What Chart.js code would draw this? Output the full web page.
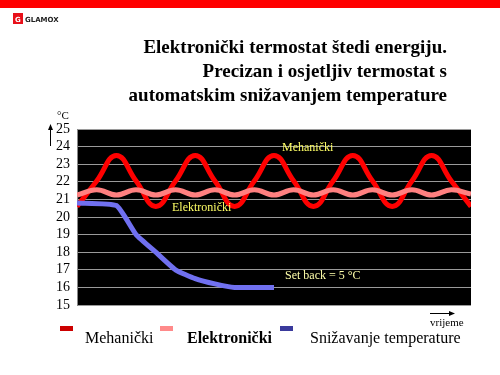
<!DOCTYPE html>
<html>
<head>
<meta charset="utf-8">
<script src="https://cdn.jsdelivr.net/npm/chart.js@4.4.0/dist/chart.umd.min.js"></script>
<style>
  html, body { margin: 0; padding: 0; background: #fff; }
  #wrap { width: 500px; height: 375px; position: relative; }
</style>
</head>
<body>
<div id="wrap"><canvas id="chart" width="500" height="375"></canvas></div>
<script>
// time steps (1 step = quarter of the mechanical cycle)
let timeSteps = [0,1,2,3,4,5,6,7,8,9,10,11,12,13,14,15,16,17,18,19,20];
let mehanicki = [20.6,22.05,23.5,22.05,20.6,22.05,23.5,22.05,20.6,22.05,23.5,22.05,20.6,22.05,23.5,22.05,20.6,22.05,23.5,22.05,20.6];
let elektronicki = [21.25,21.55,21.25,21.55,21.25,21.55,21.25,21.55,21.25,21.55,21.25,21.55,21.25,21.55,21.25,21.55,21.25,21.55,21.25,21.55,21.3];
let snizX = [0,2,3,4,5,6,7,8,10];
let snizavanje = [20.8,20.65,19.0,18.0,17.0,16.5,16.2,16.0,16.0];
let yTicks = [15,16,17,18,19,20,21,22,23,24,25];

let titleLines = ['Elektronički termostat štedi energiju.', 'Precizan i osjetljiv termostat s', 'automatskim snižavanjem temperature'];
let legendItems = [
    {label: 'Mehanički', color: '#cc0000', bold: false},
    {label: 'Elektronički', color: '#ff8a8a', bold: true},
    {label: 'Snižavanje temperature', color: '#3a3a9c', bold: false}
];

function toPoints(xs, ys){
    return ys.map(function(v, i){ return {x: xs[i], y: v}; });
}

/* draws the black plot background before the grid */
let backgroundPlugin = {
    id: 'plotBg',
    beforeDraw: function(chart){
        let ctx = chart.ctx;
        let a = chart.chartArea;
        ctx.save();
        ctx.fillStyle = '#000';
        ctx.fillRect(a.left, a.top, a.right - a.left, a.bottom - a.top);
        ctx.restore();
    }
};

/* all the slide texts: header, logo, arrows, notes and legend */
let decorPlugin = {
    id: 'decor',
    afterDraw: function(chart){
        let ctx = chart.ctx;
        ctx.save();
        // top bar
        ctx.fillStyle = '#ff0000';
        ctx.fillRect(0, 0, 500, 8);
        // logo
        ctx.fillStyle = '#e8101a';
        ctx.fillRect(13, 13, 10, 11);
        ctx.fillStyle = '#fff';
        ctx.font = 'bold 7px "DejaVu Sans"';
        ctx.fillText('G', 15, 22);
        ctx.fillStyle = '#222';
        ctx.font = 'bold 7px "DejaVu Sans"';
        ctx.fillText('GLAMOX', 25, 22);

        // title
        ctx.fillStyle = '#000';
        ctx.font = 'bold 19px "Liberation Serif"';
        ctx.textAlign = 'right';
        ctx.fillText(titleLines[0], 447, 53);
        ctx.fillText(titleLines[1], 447, 77);
        ctx.fillText(titleLines[2], 447, 101);

        // unit + vertical arrow
        ctx.textAlign = 'left';
        ctx.font = '11px "Liberation Serif"';
        ctx.fillText('°C', 57, 119);
        ctx.strokeStyle = '#000';
        ctx.lineWidth = 1;
        ctx.beginPath();
        ctx.moveTo(50.5, 146);
        ctx.lineTo(50.5, 128);
        ctx.stroke();
        ctx.beginPath();
        ctx.moveTo(50.5, 124);
        ctx.lineTo(48, 130);
        ctx.lineTo(53, 130);
        ctx.closePath();
        ctx.fill();

        // time arrow
        ctx.beginPath();
        ctx.moveTo(430, 313.5);
        ctx.lineTo(450, 313.5);
        ctx.stroke();
        ctx.beginPath();
        ctx.moveTo(455, 313.5);
        ctx.lineTo(449, 311);
        ctx.lineTo(449, 316);
        ctx.closePath();
        ctx.fill();
        ctx.font = '11px "Liberation Serif"';
        ctx.fillText('vrijeme', 430, 326);

        // notes inside the plot
        ctx.font = '12px "Liberation Serif"';
        ctx.fillStyle = '#ffff66';
        ctx.fillText('Mehanički', 282, 151);
        ctx.fillText('Elektronički', 172, 211);
        ctx.fillStyle = '#ffffaa';
        ctx.fillText('Set back = 5 °C', 285, 279);

        // legend
        let lx = [60, 160, 280];
        let tx = [85, 187, 310];
        legendItems.forEach(function(item, i){
            ctx.fillStyle = item.color;
            ctx.fillRect(lx[i], 326, 13, 5);
            ctx.fillStyle = '#000';
            ctx.font = (item.bold ? 'bold ' : '') + '16px "Liberation Serif"';
            ctx.fillText(item.label, tx[i], 343);
        });
        ctx.restore();
    }
};

new Chart(document.getElementById('chart'), {
    type: 'line',
    data: {
        datasets: [
            {
                label: 'Mehanički',
                data: toPoints(timeSteps, mehanicki),
                borderColor: '#ff0000',
                borderWidth: 5,
                pointRadius: 0,
                tension: 0.45,
                order: 3
            },
            {
                label: 'Elektronički',
                data: toPoints(timeSteps, elektronicki),
                borderColor: '#ff8080',
                borderWidth: 5,
                pointRadius: 0,
                tension: 0.4,
                order: 2
            },
            {
                label: 'Snižavanje temperature',
                data: toPoints(snizX, snizavanje),
                borderColor: '#7070f0',
                borderWidth: 5,
                pointRadius: 0,
                tension: 0.15,
                order: 1
            }
        ]
    },
    options: {
        responsive: false,
        animation: false,
        layout: { padding: { left: 0, right: 29, top: 129, bottom: 70 } },
        plugins: {
            legend: { display: false },
            tooltip: { enabled: false }
        },
        scales: {
            x: {
                type: 'linear',
                min: 0,
                max: 20,
                display: false
            },
            y: {
                min: 15,
                max: 25,
                afterFit: function(scale){ scale.width = 77; },
                afterBuildTicks: function(scale){
                    scale.ticks = yTicks.map(function(v){ return {value: v}; });
                },
                border: { display: true, color: '#888', width: 1 },
                grid: {
                    color: '#9a9a9a',
                    lineWidth: 1,
                    drawTicks: false
                },
                ticks: {
                    color: '#000',
                    padding: 7,
                    autoSkip: false,
                    font: { family: 'Liberation Serif', size: 14 }
                }
            }
        }
    },
    plugins: [backgroundPlugin, decorPlugin]
});
</script>
</body>
</html>
